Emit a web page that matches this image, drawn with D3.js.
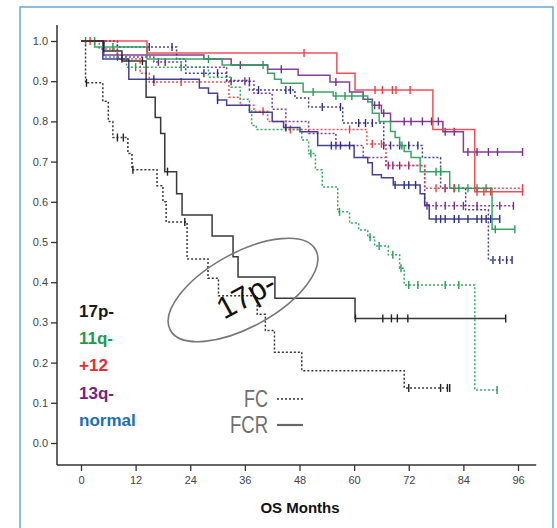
<!DOCTYPE html>
<html>
<head>
<meta charset="utf-8">
<script src="https://cdn.jsdelivr.net/npm/d3@7"></script>
<style>
  body { margin: 0; background: #fff; }
  svg { display: block; }
</style>
</head>
<body>
<script>
// Kaplan-Meier OS curves, FC (dotted) vs FCR (solid), by cytogenetic group

const xTicks = [0, 12, 24, 36, 48, 60, 72, 84, 96]
const yTicks = [0, 0.1, 0.2, 0.3, 0.4, 0.5, 0.6, 0.7, 0.8, 0.9, 1.0]

const groups = ['17p-', '11q-', '+12', '13q-', 'normal']
const groupColors = ['#1a1a1a', '#1e9a4f', '#ec2a36', '#74237f', '#1a6fba']
const lineColors = ['#222222', '#239c55', '#ee3d48', '#7a2a88', '#2f2f86']

// step times (months) and survival after each step
const p17FcT = [0, 1, 4.8, 6, 7, 10.3, 11.2, 16.7, 18, 18.7, 23.3, 27.9, 30.2, 38.7, 40.5, 42.5, 48.5, 71]
const p17FcS = [1, 0.896, 0.85, 0.80, 0.76, 0.72, 0.68, 0.64, 0.60, 0.55, 0.458, 0.41, 0.366, 0.32, 0.28, 0.226, 0.18, 0.137]
const p17FcC = [1.2, 8, 9.3, 11.4, 22.8, 72, 79, 80.5, 81]

const p17FcrT = [0, 5, 9, 14.3, 16.3, 17.5, 18.4, 21, 22.2, 28.8, 33.4, 34.5, 42.6, 60.2]
const p17FcrS = [1, 0.975, 0.95, 0.86, 0.81, 0.77, 0.675, 0.62, 0.567, 0.515, 0.463, 0.413, 0.36, 0.31]
const p17FcrC = [13.5, 19, 60.3, 66.3, 68.2, 69.5, 71.8, 93.3]

const q11FcT = [0, 5, 10, 28, 33, 35, 37, 37.5, 38.5, 48.5, 50, 51.5, 53, 56.4, 59, 61, 63, 64.5, 67.5, 70, 71, 86.5]
const q11FcS = [1, 0.96, 0.935, 0.91, 0.885, 0.855, 0.828, 0.79, 0.78, 0.754, 0.72, 0.68, 0.637, 0.575, 0.547, 0.53, 0.512, 0.49, 0.468, 0.435, 0.393, 0.132]
const q11FcC = [3, 8, 12, 22, 50.5, 56.8, 63.5, 65.5, 68.5, 70.3, 72, 74, 80, 83, 91.4]

const q11FcrT = [0, 3, 14.5, 31, 41, 42.5, 44, 48.8, 55.4, 63, 64, 65.5, 68, 69, 70, 71, 72.5, 74.5, 81, 90.3]
const q11FcrS = [1, 0.985, 0.955, 0.94, 0.92, 0.905, 0.895, 0.873, 0.863, 0.848, 0.82, 0.80, 0.775, 0.76, 0.74, 0.725, 0.71, 0.675, 0.634, 0.532]
const q11FcrC = [1, 7, 28, 40, 51, 56, 58, 59.5, 62, 70.5, 78, 79, 83, 85, 87, 89, 91, 95.3]

const t12FcT = [0, 4, 8, 13, 15, 32.5, 35, 38, 41, 45, 62.8, 67, 75.5]
const t12FcS = [1, 0.98, 0.955, 0.92, 0.898, 0.86, 0.84, 0.825, 0.80, 0.78, 0.744, 0.69, 0.634]
const t12FcC = [2, 9, 16, 22, 40, 46, 59, 64, 66, 78, 80, 82, 97]

const t12FcrT = [0, 14.5, 56.2, 60.2, 77.3, 86.5]
const t12FcrS = [1, 0.97, 0.92, 0.878, 0.78, 0.625]
const t12FcrC = [49, 64.6, 66.2, 68.4, 69.2, 72.3, 87, 88.5, 90, 97]

const q13FcT = [0, 8, 16, 22, 32, 38, 42, 45, 50, 56, 62, 67, 75.5]
const q13FcS = [1, 0.96, 0.948, 0.935, 0.90, 0.87, 0.83, 0.80, 0.77, 0.74, 0.71, 0.69, 0.59]
const q13FcC = [17, 18.5, 33, 36, 37, 56, 67.5, 68.5, 70, 72, 76, 78, 80, 82, 84, 87, 92, 95]

const q13FcrT = [0, 5, 27, 33, 41, 47.7, 54.7, 59, 62, 64, 66, 68, 79.5, 84]
const q13FcrS = [1, 0.965, 0.955, 0.94, 0.93, 0.915, 0.898, 0.873, 0.855, 0.84, 0.82, 0.80, 0.774, 0.724]
const q13FcrC = [35, 44, 56, 64.5, 65.5, 66.5, 71, 72.5, 75, 77, 78.5, 80, 82, 85, 87, 89.5, 91.5, 97]

const nFcT = [0, 8, 21, 23, 32, 37, 47, 50, 57.5, 66.5, 75, 79, 84.5, 89.5]
const nFcS = [1, 0.985, 0.955, 0.92, 0.902, 0.878, 0.858, 0.836, 0.796, 0.74, 0.71, 0.634, 0.58, 0.455]
const nFcC = [15, 20, 27, 30, 39, 45, 46, 53, 57, 61, 62.5, 64, 66.5, 68, 70, 72, 74, 80, 82, 90.5, 92, 93.5, 94.7]

const nFcrT = [0, 4.8, 10.5, 26, 28, 30, 32, 37, 42, 44.5, 48.1, 52, 60, 63, 64, 66, 68.6, 74.5, 75.5, 76.5]
const nFcrS = [1, 0.955, 0.905, 0.883, 0.87, 0.853, 0.84, 0.823, 0.80, 0.785, 0.774, 0.74, 0.71, 0.697, 0.667, 0.66, 0.642, 0.62, 0.592, 0.557]
const nFcrC = [16, 30, 45, 55, 57, 59, 69, 71, 72, 73.5, 78, 79, 80, 82, 83, 85, 87, 88, 89, 90, 92]

// group index, dotted?, times, surv, censored, end time
const curves = [
  { g: 3, fc: true, t: q13FcT, s: q13FcS, c: q13FcC },
  { g: 4, fc: true, t: nFcT, s: nFcS, c: nFcC },
  { g: 2, fc: true, t: t12FcT, s: t12FcS, c: t12FcC },
  { g: 1, fc: true, t: q11FcT, s: q11FcS, c: q11FcC },
  { g: 0, fc: true, t: p17FcT, s: p17FcS, c: p17FcC },
  { g: 4, fc: false, t: nFcrT, s: nFcrS, c: nFcrC },
  { g: 3, fc: false, t: q13FcrT, s: q13FcrS, c: q13FcrC },
  { g: 1, fc: false, t: q11FcrT, s: q11FcrS, c: q11FcrC },
  { g: 2, fc: false, t: t12FcrT, s: t12FcrS, c: t12FcrC },
  { g: 0, fc: false, t: p17FcrT, s: p17FcrS, c: p17FcrC }
]

const width = 557
const height = 528

const x = d3.scaleLinear().domain([0, 96]).range([81, 518])
const y = d3.scaleLinear().domain([0, 1]).range([443, 41])

const svg = d3.select('body').append('svg')
  .attr('width', width)
  .attr('height', height)

// light blue frame
svg.append('rect')
  .attr('x', 20).attr('y', 7)
  .attr('width', 533).attr('height', 540)
  .attr('fill', 'none')
  .attr('stroke', '#66a6dd')
  .attr('stroke-width', 1.5)

// axes
const yAxis = d3.axisLeft(y).tickValues(yTicks).tickFormat(d3.format('.1f')).tickSize(6).tickSizeOuter(0)
const xAxis = d3.axisBottom(x).tickValues(xTicks).tickFormat(d3.format('d')).tickSize(6).tickSizeOuter(0)

const gy = svg.append('g').attr('transform', 'translate(57,0)').call(yAxis)
const gx = svg.append('g').attr('transform', 'translate(0,465)').call(xAxis)

gy.select('.domain').remove()
gx.select('.domain').remove()
gy.selectAll('.tick line').attr('stroke', '#333').attr('stroke-width', 1.3)
gx.selectAll('.tick line').attr('stroke', '#333').attr('stroke-width', 1.3)
gy.selectAll('.tick text')
  .attr('font-family', 'Liberation Sans, Arial, sans-serif')
  .attr('font-size', 11).attr('fill', '#444').attr('x', -9)
gx.selectAll('.tick text')
  .attr('font-family', 'Liberation Sans, Arial, sans-serif')
  .attr('font-size', 11).attr('fill', '#444').attr('y', 11)

// axis lines run past the data range like SPSS does
svg.append('line')
  .attr('x1', 57).attr('x2', 57)
  .attr('y1', y(1.04)).attr('y2', 465)
  .attr('stroke', '#333').attr('stroke-width', 1.5)
svg.append('line')
  .attr('x1', 57).attr('x2', x(100))
  .attr('y1', 465).attr('y2', 465)
  .attr('stroke', '#333').attr('stroke-width', 1.5)

svg.append('text')
  .attr('x', 300).attr('y', 513)
  .attr('text-anchor', 'middle')
  .attr('font-family', 'Liberation Sans, Arial, sans-serif')
  .attr('font-weight', 'bold')
  .attr('font-size', 15)
  .attr('fill', '#111')
  .text('OS Months')

// curves
const line = d3.line()
  .x(d => x(d[0]))
  .y(d => y(d[1]))
  .curve(d3.curveStepAfter)

function survAt(cv, t) {
  const i = d3.bisectRight(cv.t, t) - 1
  return cv.s[Math.max(0, i)]
}

const plot = svg.append('g')

curves.forEach(cv => {
  const end = d3.max(cv.c)
  const pts = cv.t.map((t, i) => [t, cv.s[i]])
  pts.push([end, cv.s[cv.s.length - 1]])
  const col = lineColors[cv.g]

  plot.append('path')
    .attr('d', line(pts))
    .attr('fill', 'none')
    .attr('stroke', col)
    .attr('stroke-width', 1.5)
    .attr('stroke-dasharray', cv.fc ? '2,2' : null)
    .attr('opacity', 0.9)

  plot.selectAll(null)
    .data(cv.c)
    .enter().append('line')
    .attr('x1', d => x(d)).attr('x2', d => x(d))
    .attr('y1', d => y(survAt(cv, d)) - 4)
    .attr('y2', d => y(survAt(cv, d)) + 4)
    .attr('stroke', col)
    .attr('stroke-width', 1.4)
})

// group legend
svg.selectAll('.grp')
  .data(groups)
  .enter().append('text')
  .attr('class', 'grp')
  .attr('x', 79)
  .attr('y', (d, i) => 317 + i * 27.2)
  .attr('font-family', 'Liberation Sans, Arial, sans-serif')
  .attr('font-weight', 'bold')
  .attr('font-size', 17)
  .attr('fill', (d, i) => groupColors[i])
  .text(d => d)

// treatment legend
const trt = [{ label: 'FC', dash: '2,2', len: 24 }, { label: 'FCR', dash: null, len: 38 }]
trt.forEach((d, i) => {
  const by = 407 + i * 26
  svg.append('text')
    .attr('x', 268).attr('y', by)
    .attr('text-anchor', 'end')
    .attr('font-family', 'Liberation Sans, Arial, sans-serif')
    .attr('font-size', 23)
    .attr('fill', '#6e6e6e')
    .attr('textLength', d.len)
    .attr('lengthAdjust', 'spacingAndGlyphs')
    .text(d.label)
  svg.append('line')
    .attr('x1', 277).attr('x2', 303)
    .attr('y1', by - 8).attr('y2', by - 8)
    .attr('stroke', '#666')
    .attr('stroke-width', d.dash ? 1.8 : 2.2)
    .attr('stroke-dasharray', d.dash)
})

// 17p- annotation ellipse
const ann = svg.append('g').attr('transform', 'translate(243,290) rotate(-29)')
ann.append('ellipse')
  .attr('rx', 83).attr('ry', 37)
  .attr('fill', 'none')
  .attr('stroke', '#777')
  .attr('stroke-width', 1.6)
ann.append('text')
  .attr('x', 0).attr('y', 17)
  .attr('text-anchor', 'middle')
  .attr('font-family', 'Liberation Sans, Arial, sans-serif')
  .attr('font-size', 31)
  .attr('fill', '#111')
  .text('17p-')
</script>
</body>
</html>
